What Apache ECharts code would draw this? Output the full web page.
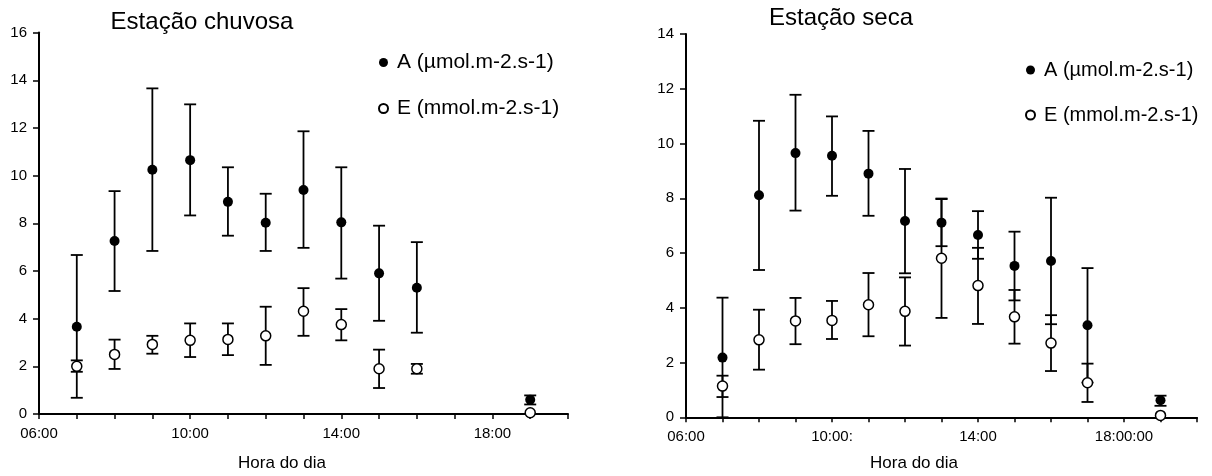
<!DOCTYPE html>
<html>
<head>
<meta charset="utf-8">
<script src="https://cdn.jsdelivr.net/npm/echarts@6/dist/echarts.min.js"></script>
<style>
html,body{margin:0;padding:0;background:#fff;}
#chart{width:1212px;height:476px;}
</style>
</head>
<body>
<div id="chart"></div>
<script>
// ---- Data ----
var leftHours = [7, 8, 9, 10, 11, 12, 13, 14, 15, 16, 19];
var leftA   = [3.66, 7.26, 10.25, 10.65, 8.90, 8.02, 9.40, 8.04, 5.90, 5.30, 0.60];
var leftAlo = [0.68, 5.16, 6.84, 8.33, 7.48, 6.84, 6.97, 5.68, 3.91, 3.41, 0.40];
var leftAhi = [6.67, 9.35, 13.66, 12.99, 10.35, 9.24, 11.86, 10.35, 7.90, 7.21, 0.78];
var leftE   = [2.00, 2.50, 2.92, 3.09, 3.13, 3.28, 4.31, 3.75, 1.90, 1.90, 0.05];
var leftElo = [1.77, 1.89, 2.53, 2.39, 2.47, 2.06, 3.28, 3.09, 1.09, 1.69, 0.05];
var leftEhi = [2.25, 3.12, 3.28, 3.80, 3.80, 4.50, 5.28, 4.40, 2.70, 2.10, 0.05];

var rightHours = [7, 8, 9, 10, 11, 12, 13, 14, 15, 16, 17, 19];
var rightA   = [2.18, 8.11, 9.65, 9.55, 8.90, 7.17, 7.11, 6.66, 5.53, 5.71, 3.36, 0.62];
var rightAlo = [0.00, 5.38, 7.55, 8.09, 7.36, 5.26, 6.25, 5.79, 4.27, 3.40, 1.27, 0.42];
var rightAhi = [4.37, 10.83, 11.78, 10.99, 10.46, 9.07, 7.97, 7.53, 6.78, 8.02, 5.45, 0.79];
var rightE   = [1.14, 2.83, 3.52, 3.54, 4.11, 3.87, 5.81, 4.81, 3.67, 2.71, 1.26, 0.07];
var rightElo = [0.74, 1.74, 2.67, 2.86, 2.96, 2.62, 3.63, 3.41, 2.69, 1.69, 0.56, 0.07];
var rightEhi = [1.52, 3.93, 4.36, 4.25, 5.27, 5.11, 7.99, 6.19, 4.65, 3.73, 1.96, 0.07];

var tickHours = [6, 10, 14, 18];
var leftTickLabels  = ['06:00', '10:00', '14:00', '18:00'];
var rightTickLabels = ['06:00', '10:00:', '14:00', '18:00:00'];

var titles = ['Estação chuvosa', 'Estação seca'];
var xAxisTitle = 'Hora do dia';
var nameA = 'A (µmol.m-2.s-1)';
var nameE = 'E (mmol.m-2.s-1)';

// ---- Helpers ----
var FONT = '"Liberation Sans", Arial, Helvetica, sans-serif';

function pts(h, v) { return h.map(function (x, i) { return [x, v[i]]; }); }
function bars(h, lo, hi) { return h.map(function (x, i) { return [x, lo[i], hi[i]]; }); }

function errRender(params, api) {
  var x = api.value(0), lo = api.value(1), hi = api.value(2);
  if (hi - lo < 0.01) return null;
  var p1 = api.coord([x, lo]), p2 = api.coord([x, hi]);
  var cw = 6;
  var st = { stroke: '#000', lineWidth: 1.8 };
  return {
    type: 'group',
    children: [
      { type: 'line', shape: { x1: p1[0], y1: p1[1], x2: p2[0], y2: p2[1] }, style: st },
      { type: 'line', shape: { x1: p1[0] - cw, y1: p1[1], x2: p1[0] + cw, y2: p1[1] }, style: st },
      { type: 'line', shape: { x1: p2[0] - cw, y1: p2[1], x2: p2[0] + cw, y2: p2[1] }, style: st }
    ]
  };
}

function xAxisCfg(gi, labels) {
  return {
    type: 'value', gridIndex: gi, min: 6, max: 20, interval: 1,
    axisLine: { onZero: false, lineStyle: { color: '#000', width: 2 } },
    axisTick: { show: true, length: 5, lineStyle: { color: '#000', width: 1.5 } },
    splitLine: { show: false },
    axisLabel: {
      color: '#000', fontSize: 15, fontFamily: FONT, margin: 12,
      showMinLabel: true, showMaxLabel: true,
      formatter: function (v) {
        var k = tickHours.indexOf(Math.round(v));
        return (k >= 0 && Math.abs(v - Math.round(v)) < 1e-6) ? labels[k] : '';
      }
    }
  };
}
function yAxisCfg(gi, max) {
  return {
    type: 'value', gridIndex: gi, min: 0, max: max, interval: 2,
    axisLine: { show: true, lineStyle: { color: '#000', width: 2 } },
    axisTick: { show: true, length: 6, lineStyle: { color: '#000', width: 1.5 } },
    splitLine: { show: false },
    axisLabel: { color: '#000', fontSize: 15, fontFamily: FONT, margin: 12 }
  };
}

var filledStyle = { color: '#000', borderColor: '#000', borderWidth: 0, opacity: 1 };
var openStyle = { color: '#fff', borderColor: '#000', borderWidth: 1.5, opacity: 1 };

function legendCfg(left, top, fs) {
  return {
    orient: 'vertical', left: left, top: top,
    itemWidth: 9, itemHeight: 9, itemGap: 25,
    data: [nameA, nameE],
    textStyle: { color: '#000', fontSize: fs, fontFamily: FONT, lineHeight: 20, padding: [0, 0, 0, 4] },
    selectedMode: false
  };
}

var chart = echarts.init(document.getElementById('chart'), null, { renderer: 'canvas' });

chart.setOption({
  backgroundColor: '#fff',
  animation: false,
  grid: [
    { left: 39, top: 32.6, width: 529, height: 381.4, containLabel: false },
    { left: 686, top: 34, width: 511, height: 383.3, containLabel: false }
  ],
  xAxis: [xAxisCfg(0, leftTickLabels), xAxisCfg(1, rightTickLabels)],
  yAxis: [yAxisCfg(0, 16), yAxisCfg(1, 14)],
  legend: [legendCfg(373, 47, 21), legendCfg(1020, 55, 20)],
  graphic: [
    { type: 'text', x: 202, y: 22, style: { text: titles[0], fill: '#000', font: '24px ' + FONT, textAlign: 'center', textVerticalAlign: 'middle' } },
    { type: 'text', x: 841, y: 18, style: { text: titles[1], fill: '#000', font: '24px ' + FONT, textAlign: 'center', textVerticalAlign: 'middle' } },
    { type: 'text', x: 282, y: 463, style: { text: xAxisTitle, fill: '#000', font: '17px ' + FONT, textAlign: 'center', textVerticalAlign: 'middle' } },
    { type: 'text', x: 914, y: 463, style: { text: xAxisTitle, fill: '#000', font: '17px ' + FONT, textAlign: 'center', textVerticalAlign: 'middle' } }
  ],
  series: [
    { type: 'custom', name: 'errA1', xAxisIndex: 0, yAxisIndex: 0, renderItem: errRender, data: bars(leftHours, leftAlo, leftAhi), z: 2, silent: true },
    { type: 'custom', name: 'errE1', xAxisIndex: 0, yAxisIndex: 0, renderItem: errRender, data: bars(leftHours, leftElo, leftEhi), z: 2, silent: true },
    { type: 'custom', name: 'errA2', xAxisIndex: 1, yAxisIndex: 1, renderItem: errRender, data: bars(rightHours, rightAlo, rightAhi), z: 2, silent: true },
    { type: 'custom', name: 'errE2', xAxisIndex: 1, yAxisIndex: 1, renderItem: errRender, data: bars(rightHours, rightElo, rightEhi), z: 2, silent: true },
    { type: 'scatter', name: nameA, xAxisIndex: 0, yAxisIndex: 0, symbol: 'circle', symbolSize: 10, itemStyle: filledStyle, data: pts(leftHours, leftA), z: 5 },
    { type: 'scatter', name: nameE, xAxisIndex: 0, yAxisIndex: 0, symbol: 'circle', symbolSize: 10, itemStyle: openStyle, data: pts(leftHours, leftE), z: 5 },
    { type: 'scatter', name: nameA, xAxisIndex: 1, yAxisIndex: 1, symbol: 'circle', symbolSize: 10, itemStyle: filledStyle, data: pts(rightHours, rightA), z: 5 },
    { type: 'scatter', name: nameE, xAxisIndex: 1, yAxisIndex: 1, symbol: 'circle', symbolSize: 10, itemStyle: openStyle, data: pts(rightHours, rightE), z: 5 }
  ]
});
</script>
</body>
</html>
